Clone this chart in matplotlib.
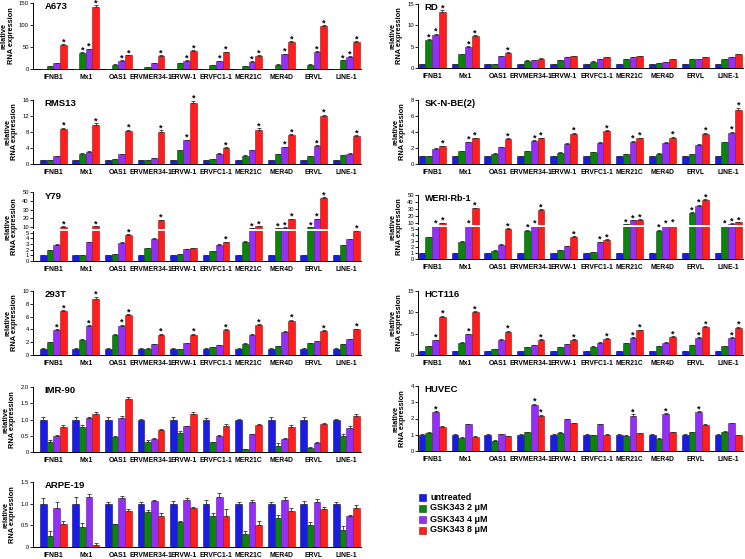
import numpy as np
import matplotlib.pyplot as plt
from matplotlib.patches import Rectangle
import matplotlib.transforms as mtransforms

plt.rcParams['font.family'] = ['Liberation Sans', 'DejaVu Sans']

genes = ["IFNB1", "Mx1", "OAS1", "ERVMER34-1", "ERVW-1",
         "ERVFC1-1", "MER21C", "MER4D", "ERVL", "LINE-1"]
conditions = ["untreated", "GSK343 2 \u03bcM", "GSK343 4 \u03bcM", "GSK343 8 \u03bcM"]
colors = ["#1c1ce0", "#0d820d", "#9430f5", "#ff1e1e"]
edges = ["#0a0a90", "#064d06", "#5a1a99", "#a01010"]

# values per gene: untreated, 2uM, 4uM, 8uM
a673 = [[1, 6, 13, 54], [1, 37, 45, 140], [1, 10, 19, 31], [1, 5, 13, 30], [1, 13, 19, 41],
        [1, 8, 18, 38], [1, 6, 17, 30], [1, 10, 34, 61], [1, 10, 39, 97], [1, 20, 28, 61]]
a673_stars = "0001 0111 0011 0001 0011 0011 0011 0011 0011 0111"

rd = [[1, 6.6, 7.8, 13.1], [1, 3.2, 5.0, 7.5], [1, 1.0, 2.7, 3.6], [1, 1.7, 1.8, 2.2], [1, 1.8, 2.5, 2.8],
      [1, 1.5, 2.1, 2.5], [1, 2.0, 2.5, 2.8], [1, 1.1, 1.4, 2.1], [1, 2.0, 2.1, 2.6], [1, 2.0, 2.5, 3.2]]
rd_stars = "0111 0011 0001 0000 0000 0000 0000 0000 0000 0000"

rms13 = [[1, 0.9, 1.9, 8.8], [1, 2.6, 3.1, 9.8], [1, 1.2, 2.5, 8.3], [1, 1.0, 1.5, 8.1], [1, 3.4, 5.9, 15.3],
         [1, 1.2, 2.6, 4.1], [1, 2.1, 3.5, 8.6], [1, 2.5, 4.2, 7.2], [1, 1.9, 4.5, 11.9], [1, 2.2, 2.6, 7.0]]
rms13_stars = "0001 0001 0001 0001 0011 0001 0001 0011 0011 0001"

skn = [[1, 1.0, 1.9, 2.2], [1, 1.6, 2.7, 3.2], [1, 1.3, 2.1, 3.1], [1, 1.6, 2.9, 3.2], [1, 1.4, 2.5, 3.8],
       [1, 1.5, 2.6, 4.1], [1, 1.2, 2.8, 3.2], [1, 1.3, 2.6, 3.3], [1, 1.2, 2.4, 3.8], [1, 2.7, 3.9, 6.8]]
skn_stars = "0001 0011 0001 0011 0001 0001 0011 0001 0001 0011"

y79 = [[1, 1.9, 2.9, 10.5], [1, 1.1, 3.3, 11], [1, 1.25, 3.25, 4.6], [1, 2.3, 3.9, 18], [1, 1.2, 2.1, 2.3],
       [1, 1.7, 2.9, 3.3], [1, 3.4, 9, 11], [1, 9, 9.5, 19], [1, 10, 19, 43], [1, 2.8, 3.8, 7]]
y79_stars = "0001 0001 0001 0001 0000 0001 0011 0111 0111 0001"

weri = [[1, 3.6, 8, 10.5], [1, 2.9, 8, 31], [1, 1.4, 2.4, 5.2], [1, 4.7, 8, 29], [1, 1.5, 2.1, 3.7],
        [1, 1.1, 2.8, 3.2], [1, 9, 14, 15], [1, 4.7, 8, 8.5], [1, 25, 35, 43], [1, 8, 9.5, 11]]
weri_stars = "0011 0011 0001 0111 0001 0011 0111 0111 0111 0111"

t293 = [[1, 2.0, 3.95, 6.8], [1, 2.4, 4.5, 8.8], [1, 3.2, 4.6, 6.2], [1, 1.0, 1.7, 3.2], [1, 0.95, 1.85, 3.2],
        [1, 1.2, 1.5, 3.9], [1, 1.75, 3.2, 4.7], [1, 1.35, 3.55, 5.35], [1, 1.85, 2.15, 3.75], [1, 1.65, 2.45, 4.0]]
t293_stars = "0011 0011 0011 0001 0001 0001 0001 0001 0001 0001"

hct = [[1, 2.15, 3.45, 8.9], [1, 2.85, 4.85, 10.0], [1, 1.3, 3.6, 5.5], [1, 1.9, 2.25, 3.6], [1, 1.8, 2.5, 3.6],
       [1, 1.95, 2.9, 3.75], [1, 2.7, 4.0, 5.75], [1, 2.1, 2.85, 4.2], [1, 2.3, 4.0, 6.6], [1, 2.1, 4.1, 6.4]]
hct_stars = "0011 0011 0001 0001 0001 0001 0011 0001 0011 0011"

imr90 = [[1, 0.32, 0.49, 0.78], [1, 0.78, 1.06, 1.18], [1, 0.46, 1.06, 1.63], [1, 0.31, 0.39, 0.68],
         [1, 0.59, 0.79, 1.17], [1, 0.30, 0.48, 0.79], [1, 0.08, 0.54, 0.84], [1, 0.19, 0.41, 0.78],
         [1, 0.11, 0.29, 0.86], [1, 0.49, 0.74, 1.10]]
imr90_err = [[0.08, 0.05, 0.03, 0.05], [0.08, 0.05, 0.02, 0.06], [0.08, 0.03, 0.05, 0.05], [0.02, 0.06, 0.04, 0.03],
             [0.08, 0.06, 0.02, 0.06], [0.05, 0.02, 0.05, 0.08], [0.02, 0.02, 0.02, 0.03], [0.08, 0.08, 0.03, 0.05],
             [0.08, 0.05, 0.03, 0.03], [0.02, 0.07, 0.07, 0.07]]

huvec = [[1, 1.12, 2.42, 1.5], [0.97, 0.82, 1.65, 0.88], [1, 0.62, 1.03, 0.9], [0.98, 1.15, 2.82, 2.15],
         [1, 1.1, 1.95, 1.7], [1, 0.96, 1.65, 1.0], [1, 0.95, 2.15, 1.08], [1, 0.75, 2.3, 1.15],
         [1, 1.15, 2.4, 1.62], [1, 1.18, 1.7, 0.97]]
huvec_err = [[0.05, 0.05, 0.04, 0.05], [0.06, 0.07, 0.03, 0.05], [0.05, 0.06, 0.03, 0.04], [0.05, 0.04, 0.1, 0.08],
             [0.06, 0.08, 0.04, 0.04], [0.03, 0.05, 0.03, 0.05], [0.04, 0.05, 0.12, 0.04], [0.06, 0.07, 0.04, 0.04],
             [0.04, 0.05, 0.04, 0.05], [0.05, 0.08, 0.03, 0.04]]
huvec_stars = "0010 0000 0000 0011 0000 0000 0010 0010 0010 0000"

arpe = [[1, 0.26, 0.90, 0.53], [1, 0.46, 1.16, 0.05], [1, 0.52, 1.14, 0.84], [1, 0.81, 1.06, 0.72],
        [1, 0.57, 1.08, 0.89], [1, 0.71, 1.16, 0.72], [1, 0.29, 1.04, 0.51], [1, 0.68, 1.08, 0.82],
        [1, 0.51, 1.04, 0.88], [1, 0.39, 0.71, 0.89]]
arpe_err = [[0.14, 0.10, 0.14, 0.08], [0.16, 0.09, 0.06, 0.04], [0.03, 0.02, 0.04, 0.04], [0.04, 0.05, 0.02, 0.07],
            [0.07, 0.04, 0.05, 0.04], [0.09, 0.07, 0.09, 0.15], [0.03, 0.07, 0.05, 0.09], [0.04, 0.06, 0.07, 0.09],
            [0.07, 0.06, 0.06, 0.05], [0.03, 0.09, 0.04, 0.07]]

no_stars = "0000 0000 0000 0000 0000 0000 0000 0000 0000 0000"

W, H = 745, 559
fig = plt.figure(figsize=(W / 100, H / 100), dpi=100)

LEFT = (33, 361, -0.62, 9.45)
RIGHT = (418, 743, -0.43, 9.45)


def panel(title, vals, stars, ticks, col, top, bottom, err=None, brk=None, ticklabels=None, tsize=6.8):
    x0, x1, xmin, xmax = col
    ax = fig.add_axes([x0 / W, 1 - bottom / H, (x1 - x0) / W, (bottom - top) / H])
    vals = np.array(vals, dtype=float)
    if err is None:
        err = vals * 0.035
    err = np.array(err, dtype=float)
    if brk is not None:
        xs, ys = brk
        ax.set_yscale('function', functions=(lambda v: np.interp(v, xs, ys),
                                             lambda v: np.interp(v, ys, xs)))
    idx = np.arange(len(genes))
    bw = 0.205
    flags = stars.split()
    for j in range(4):
        xp = idx + (j - 1.5) * bw
        ax.bar(xp, vals[:, j], bw, color=colors[j], edgecolor=edges[j], linewidth=0.4, zorder=2)
        ax.errorbar(xp, vals[:, j], yerr=[np.zeros(len(idx)), err[:, j]], fmt='none',
                    ecolor='#303030', elinewidth=0.6, capsize=1.3, capthick=0.6, zorder=3)
        for i in range(len(idx)):
            if flags[i][j] == '1':
                ax.annotate('*', (xp[i], vals[i, j] + err[i, j]), xytext=(0, -1.6),
                            textcoords='offset points', ha='center', va='bottom',
                            fontsize=6.5, fontweight='bold', annotation_clip=False, zorder=8)
    ax.set_xlim(xmin, xmax)
    ax.set_ylim(ticks[0], ticks[-1])
    ax.set_yticks(ticks)
    if ticklabels is not None:
        ax.set_yticklabels(ticklabels)
    ax.set_xticks(idx)
    ax.set_xticklabels(genes, fontsize=4.9, fontweight='bold')
    ax.tick_params(axis='x', length=0, pad=3.5)
    ax.tick_params(axis='y', labelsize=4.2, length=2, width=0.6, pad=1)
    ax.minorticks_off()
    for s in ['top', 'right']:
        ax.spines[s].set_visible(False)
    for s in ['left', 'bottom']:
        ax.spines[s].set_linewidth(0.7)
    ax.set_ylabel("relative\nRNA expression", fontsize=5.3, fontweight='bold', labelpad=3, linespacing=1.0)
    ax.text(0.035 if col is LEFT else 0.02, 0.94, title, transform=ax.transAxes,
            fontsize=tsize, fontweight='bold', va='center', ha='left', zorder=8)
    if brk is not None:
        trans = mtransforms.blended_transform_factory(ax.transAxes, ax.transData)
        ax.add_patch(Rectangle((-0.02, 6.9), 1.02, 1.3, transform=trans, facecolor='white',
                               edgecolor='none', zorder=6, clip_on=False))
    return ax


panel("A673", a673, a673_stars, [0, 50, 100, 150], LEFT, 3, 69)
panel("RD", rd, rd_stars, [0, 5, 10, 15], RIGHT, 4, 68)
panel("RMS13", rms13, rms13_stars, [0, 4, 8, 12, 16], LEFT, 100, 164)
panel("SK-N-BE(2)", skn, skn_stars, [0, 2, 4, 6, 8], RIGHT, 100, 164)
panel("Y79", y79, y79_stars, [0, 1, 2, 3, 4, 5, 10, 20, 30, 40, 50], LEFT, 192, 261,
      brk=([0, 5, 10, 50], [0, 0.41, 0.49, 1.0]))
panel("WERI-Rb-1", weri, weri_stars, [0, 1, 2, 3, 4, 5, 10, 20, 30, 40, 50], RIGHT, 195, 259,
      brk=([0, 5, 10, 50], [0, 0.47, 0.56, 1.0]), tsize=6.5)
panel("293T", t293, t293_stars, [0, 2, 4, 6, 8, 10], LEFT, 291, 355)
panel("HCT116", hct, hct_stars, [0, 5, 10, 15], RIGHT, 291, 355)
panel("IMR-90", imr90, no_stars, [0, 0.5, 1.0, 1.5, 2.0], LEFT, 387, 452, err=imr90_err,
      ticklabels=["0", "0.5", "1.0", "1.5", "2.0"])
panel("HUVEC", huvec, huvec_stars, [0, 1, 2, 3, 4], RIGHT, 386, 451, err=huvec_err)
panel("ARPE-19", arpe, no_stars, [0, 0.5, 1.0, 1.5], LEFT, 482, 547, err=arpe_err,
      ticklabels=["0", "0.5", "1.0", "1.5"])

# legend
for j, lab in enumerate(conditions):
    yy = 497 + j * 11
    fig.patches.append(Rectangle((419 / W, 1 - (yy + 3.5) / H), 7 / W, 7 / H, transform=fig.transFigure,
                                 facecolor=colors[j], edgecolor=edges[j], linewidth=0.4))
    fig.text(430 / W, 1 - yy / H, lab, fontsize=6.5, fontweight='bold', va='center', ha='left')

fig.savefig("out.png", dpi=100)
